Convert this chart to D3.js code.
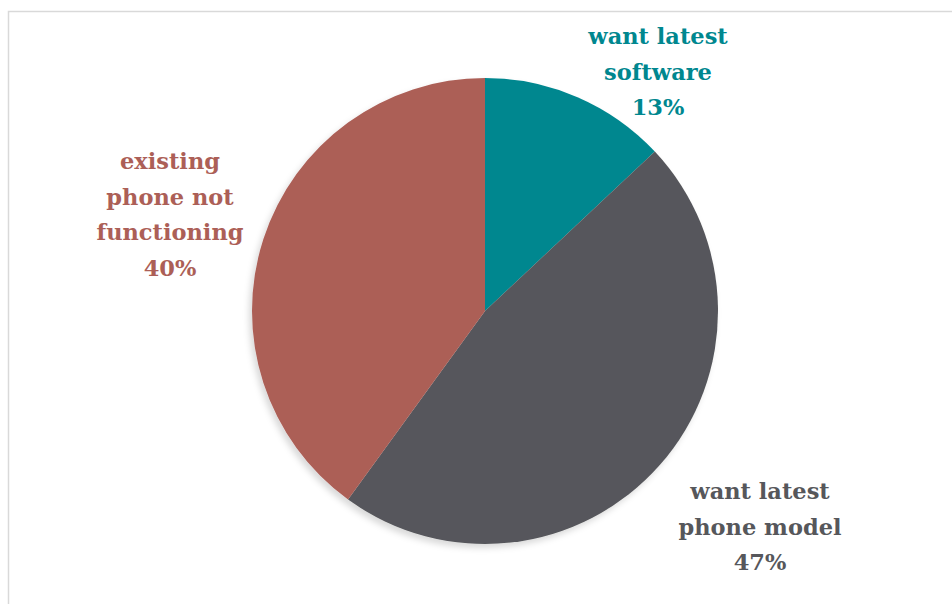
<!DOCTYPE html>
<html>
<head>
<meta charset="utf-8">
<script src="https://cdn.jsdelivr.net/npm/d3@7"></script>
<style>
  html, body { margin: 0; padding: 0; background: #fff; }
  svg { display: block; }
</style>
</head>
<body>
<svg id="chart" width="952" height="604"></svg>
<script>
// Reasons for buying a new phone
const categories = ["want latest software", "want latest phone model", "existing phone not functioning"];
const values = [13, 47, 40];
const colors = ["#00878F", "#56575B", "#AC5F57"];
// label lines (category wrapped) plus percentage
const labelLines = [
  ["want latest", "software"],
  ["want latest", "phone model"],
  ["existing", "phone not", "functioning"]
];
const labelAnchors = [[658, 44], [760, 499], [170, 169]];

const svg = d3.select("#chart");
const W = 952, H = 604;

// chart frame
svg.append("rect")
  .attr("x", 8.5).attr("y", 11.5)
  .attr("width", W).attr("height", H)
  .attr("fill", "none").attr("stroke", "#d9d9d9").attr("stroke-width", 1.5);

const defs = svg.append("defs");
const f = defs.append("filter").attr("id", "shadow")
  .attr("x", "-10%").attr("y", "-10%").attr("width", "120%").attr("height", "120%");
f.append("feDropShadow").attr("dx", -3).attr("dy", 4).attr("stdDeviation", 3)
  .attr("flood-color", "#000").attr("flood-opacity", 0.15);

const cx = 485, cy = 311, r = 233;

const pie = d3.pie().sort(null).value(d => d)(values);
const arc = d3.arc().innerRadius(0).outerRadius(r);

const g = svg.append("g").attr("transform", `translate(${cx},${cy})`);
g.append("g").attr("filter", "url(#shadow)")
  .selectAll("path").data(pie).join("path")
  .attr("d", arc)
  .attr("fill", (d, i) => colors[i]);

const lineH = 35.5;
labelLines.forEach((lines, i) => {
  const all = lines.concat([values[i] + "%"]);
  const t = svg.append("text")
    .attr("text-anchor", "middle")
    .attr("font-family", "'DejaVu Serif', serif")
    .attr("font-weight", "bold")
    .attr("font-size", 22.5)
    .attr("fill", colors[i]);
  all.forEach((s, k) => {
    t.append("tspan")
      .attr("x", labelAnchors[i][0])
      .attr("y", labelAnchors[i][1] + k * lineH)
      .text(s);
  });
});
</script>
</body>
</html>
